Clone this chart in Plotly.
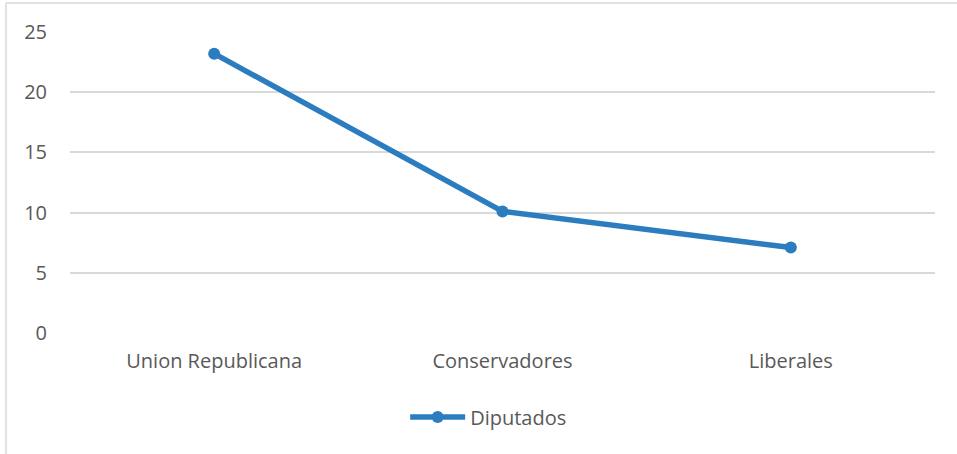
import plotly.graph_objects as go

categories = ["Union Republicana", "Conservadores", "Liberales"]
diputados = [23.2, 10.1, 7.1]
y_ticks = [0, 5, 10, 15, 20, 25]

W, H = 957, 454
ml, mr, mt, mb = 70, 22, 32, 121
pw, ph = W - ml - mr, H - mt - mb

def px_x(p):
    return (p - ml) / pw

def px_y(p):
    return (H - mb - p) / ph

FAM = "Open Sans, Noto Sans, sans-serif"
fig = go.Figure()
fig.add_trace(go.Scatter(
    x=categories, y=diputados, mode="lines+markers", name="Diputados",
    line=dict(color="#2C7DC0", width=5.5),
    marker=dict(color="#2C7DC0", size=12),
))

fig.update_layout(
    width=W, height=H,
    margin=dict(l=ml, r=mr, t=mt, b=mb),
    paper_bgcolor="white", plot_bgcolor="white",
    font=dict(family=FAM, size=20, color="#595959"),
    showlegend=True,
    legend=dict(orientation="h", x=0.484, xanchor="center", y=px_y(417), yanchor="middle",
                itemwidth=55,
                font=dict(family=FAM, size=20, color="#595959")),
    xaxis=dict(showgrid=False, showline=False, zeroline=False, ticks="",
               ticklabelstandoff=14,
               tickfont=dict(family=FAM, size=20, color="#595959"),
               range=[-0.5, 2.5]),
    yaxis=dict(range=[0, 25], tickvals=y_ticks, showgrid=True, gridcolor="#D9D9D9", gridwidth=1.5,
               zeroline=False, showline=False, ticks="", ticklabelstandoff=22,
               tickfont=dict(family=FAM, size=20, color="#595959")),
    shapes=[
        dict(type="line", xref="paper", yref="paper", x0=px_x(6), x1=px_x(6), y0=px_y(3), y1=px_y(H),
             line=dict(color="#D9D9D9", width=1.5)),
        dict(type="line", xref="paper", yref="paper", x0=px_x(6), x1=px_x(W), y0=px_y(3), y1=px_y(3),
             line=dict(color="#D9D9D9", width=1.5)),
    ],
)
fig.write_html("out.html")
